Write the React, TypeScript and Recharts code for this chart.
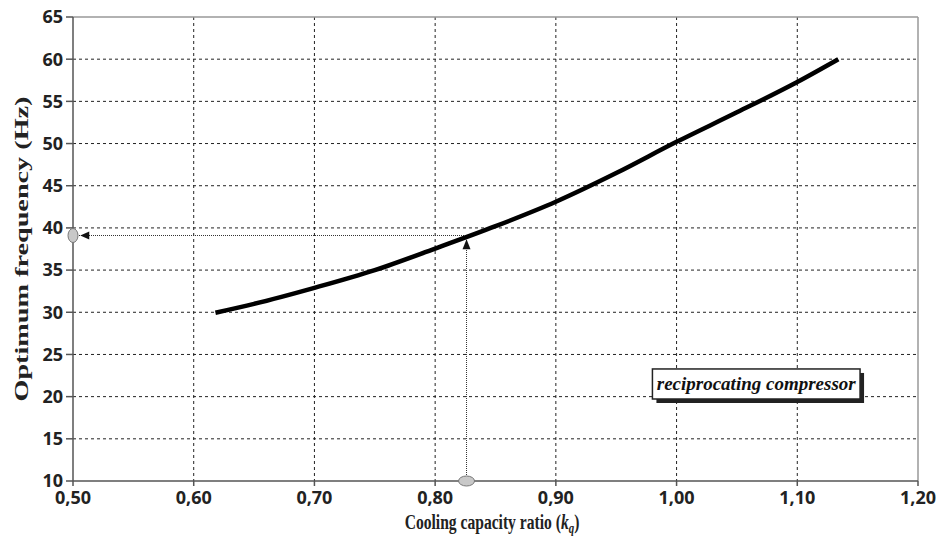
import React from 'react';
import {
  LineChart,
  Line,
  XAxis,
  YAxis,
  CartesianGrid,
  ReferenceLine,
  ReferenceDot,
  ReferenceArea,
} from 'recharts';

// optimum compressor frequency vs cooling capacity ratio
const kqValues = [0.618, 0.65, 0.7, 0.75, 0.8, 0.85, 0.9, 0.95, 1.0, 1.05, 1.1, 1.134];
const freqValues = [29.95, 31.0, 32.9, 35.0, 37.55, 40.2, 43.1, 46.5, 50.2, 53.7, 57.3, 60];

const xTicks = [0.5, 0.6, 0.7, 0.8, 0.9, 1.0, 1.1, 1.2];
const yTicks = [10, 15, 20, 25, 30, 35, 40, 45, 50, 55, 60, 65];

// operating point
const pointKq = 0.826;
const pointFreq = 39.1;
const arrowTipFreq = 38.65;

const data = kqValues.map((kq, i) => ({ kq, freq: freqValues[i] }));

const SERIF = '"Liberation Serif", "Times New Roman", serif';
const SANS = '"Open Sans", "DejaVu Sans", sans-serif';

const fmt = (v: number) => v.toFixed(2).replace('.', ',');

const tickStyle = { fontFamily: SANS, fontWeight: 700, fontSize: 18, fill: '#222' };

const LeftArrow = (props: any) => {
  const { cx, cy } = props;
  return <polygon points={`${cx},${cy} ${cx + 9},${cy - 4} ${cx + 9},${cy + 4}`} fill="#111" />;
};

const UpArrow = (props: any) => {
  const { cx, cy } = props;
  return <polygon points={`${cx},${cy} ${cx - 4},${cy + 10} ${cx + 4},${cy + 10}`} fill="#111" />;
};

const Ellipse = (rx: number, ry: number) => (props: any) => (
  <ellipse cx={props.cx} cy={props.cy} rx={rx} ry={ry} fill="#c8c8c8" stroke="#777" strokeWidth={1} />
);

const LabelBox = (props: any) => {
  const { x, y, width, height } = props;
  return (
    <g>
      <rect x={x + 4} y={y + 4} width={width} height={height} fill="#222" />
      <rect x={x} y={y} width={width} height={height} fill="#fff" stroke="#222" strokeWidth={1.5} />
      <text
        x={x + width / 2}
        y={y + height / 2 + 6}
        textAnchor="middle"
        fontFamily={SERIF}
        fontWeight="bold"
        fontStyle="italic"
        fontSize={19}
        fill="#111"
      >
        reciprocating compressor
      </text>
    </g>
  );
};

const YTitle = () => (
  <text
    x={22}
    y={249}
    transform="rotate(-90 22 249)"
    textAnchor="middle"
    dominantBaseline="central"
    fontFamily={SERIF}
    fontWeight="bold"
    fontSize={18}
    textLength={305}
    lengthAdjust="spacingAndGlyphs"
    fill="#222"
  >
    Optimum frequency (Hz)
  </text>
);

// narrow, tall bold title under the x axis
const XTitle = () => (
  <g transform="translate(492 529) scale(0.78 1)">
    <text x={0} y={0} textAnchor="middle" fontFamily={SERIF} fontWeight="bold" fontSize={20} fill="#222">
      Cooling capacity ratio (<tspan fontStyle="italic">k</tspan>
      <tspan fontStyle="italic" fontSize={14} dy={4}>q</tspan>
      <tspan dy={-4}>)</tspan>
    </text>
  </g>
);

export default function App() {
  return (
    <div style={{ position: 'absolute', left: 0, top: 0, background: '#fff' }}>
      <LineChart width={936} height={539} data={data} margin={{ top: 17, right: 18, left: 0, bottom: 0 }}>
        <CartesianGrid
          stroke="#222"
          strokeDasharray="3 3"
          horizontalValues={yTicks.slice(1, -1)}
          verticalValues={xTicks.slice(1, -1)}
        />
        <XAxis
          dataKey="kq"
          type="number"
          domain={[0.5, 1.2]}
          ticks={xTicks}
          tickFormatter={fmt}
          height={58}
          stroke="#555"
          strokeWidth={1.5}
          tickSize={5}
          tickMargin={5}
          tick={tickStyle}
          label={<XTitle />}
          allowDataOverflow
        />
        <YAxis
          dataKey="freq"
          type="number"
          domain={[10, 65]}
          ticks={yTicks}
          width={73}
          stroke="#555"
          strokeWidth={1.5}
          tickSize={7}
          tickMargin={3}
          tick={tickStyle}
          label={<YTitle />}
          allowDataOverflow
        />
        <ReferenceLine y={65} stroke="#999" strokeWidth={1.5} />
        <ReferenceLine x={1.2} stroke="#999" strokeWidth={1.5} />
        <ReferenceLine
          segment={[{ x: 0.5, y: pointFreq }, { x: pointKq, y: pointFreq }]}
          stroke="#333"
          strokeDasharray="1 1"
        />
        <ReferenceLine
          segment={[{ x: pointKq, y: 10 }, { x: pointKq, y: arrowTipFreq }]}
          stroke="#333"
          strokeDasharray="1 1"
        />
        <ReferenceArea x1={0.98} x2={1.152} y1={19.72} y2={23.28} shape={<LabelBox />} />
        <Line
          type="monotone"
          dataKey="freq"
          stroke="#000"
          strokeWidth={4.5}
          dot={false}
          isAnimationActive={false}
        />
        <ReferenceDot x={0.506} y={pointFreq} shape={<LeftArrow />} />
        <ReferenceDot x={pointKq} y={arrowTipFreq} shape={<UpArrow />} />
        <ReferenceDot x={0.5} y={pointFreq} shape={Ellipse(5, 7)} />
        <ReferenceDot x={pointKq} y={10} shape={Ellipse(8, 5)} />
      </LineChart>
    </div>
  );
}
